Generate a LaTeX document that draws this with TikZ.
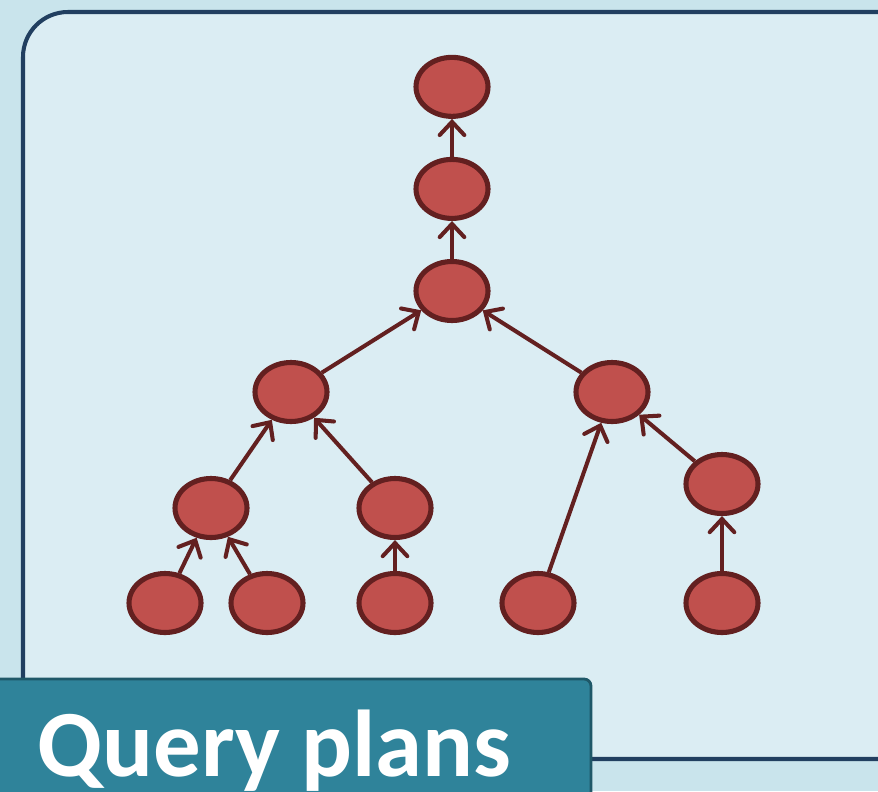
\documentclass[tikz,border=0pt]{standalone}
\usepackage{fontspec}
\setmainfont{Carlito}
\usepackage{tikz}
\usetikzlibrary{arrows.meta,positioning,shapes.geometric}
\definecolor{pagebg}{HTML}{C9E4EC}
\definecolor{panelbg}{HTML}{DBEDF3}
\definecolor{panelline}{HTML}{213F60}
\definecolor{opfill}{HTML}{C0504D}
\definecolor{opline}{HTML}{632020}
\definecolor{tabfill}{HTML}{2F839A}
\definecolor{tabline}{HTML}{1F5868}
\tikzset{
  op/.style={ellipse,draw=opline,fill=opfill,line width=2.9pt,
    minimum width=1.44cm,minimum height=1.18cm,inner sep=0pt},
  feed/.style={draw=opline,line width=2.3pt,
    -{Straight Barb[length=7.5pt,width=14pt,line cap=round]}}
}

\begin{document}
\begin{tikzpicture}[x=0.02cm,y=-0.02cm]
\useasboundingbox (0,0) rectangle (878,791);
\clip (0,0) rectangle (878,791);
\fill[pagebg] (0,0) rectangle (878,791);
\draw[panelline,fill=panelbg,line width=2.3pt,rounded corners=0.9cm]
  (23,12) rectangle (930,759);
% operator tree
\node[op] (root) at (452,291) {};
\node[op,above=0.76cm of root] (proj) {};
\node[op,above=0.76cm of proj] (out) {};
\node[op] (joinL) at (291,392) {};
\node[op] (joinR) at (612,392) {};
\node[op] (selA) at (211,508) {};
\node[op] (selB) at (395,508) {};
\node[op] (selC) at (722,484) {};
\node[op] (scanA) at (165,603) {};
\node[op] (scanB) at (267,603) {};
\node[op] (scanC) at (395,603) {};
\node[op] (scanD) at (538,603) {};
\node[op] (scanE) at (722,603) {};
\draw[feed] (proj) -- (out);
\draw[feed] (root) -- (proj);
\draw[feed] (joinL) -- (root);
\draw[feed] (joinR) -- (root);
\draw[feed] (selA) -- (joinL);
\draw[feed] (selB) -- (joinL);
\draw[feed] (scanA) -- (selA);
\draw[feed] (scanB) -- (selA);
\draw[feed] (scanC) -- (selB);
\draw[feed] (scanD) -- (joinR);
\draw[feed] (selC) -- (joinR);
\draw[feed] (scanE) -- (selC);
% title tab
\draw[tabline,fill=tabfill,line width=1.6pt,rounded corners=0.14cm]
  (-20,679) rectangle (591,830);
\node[anchor=base west,inner sep=0pt,text=white,font=\bfseries\fontsize{54}{64}\selectfont]
  (title) at (37,776) {Query plans};
\end{tikzpicture}
\end{document}
